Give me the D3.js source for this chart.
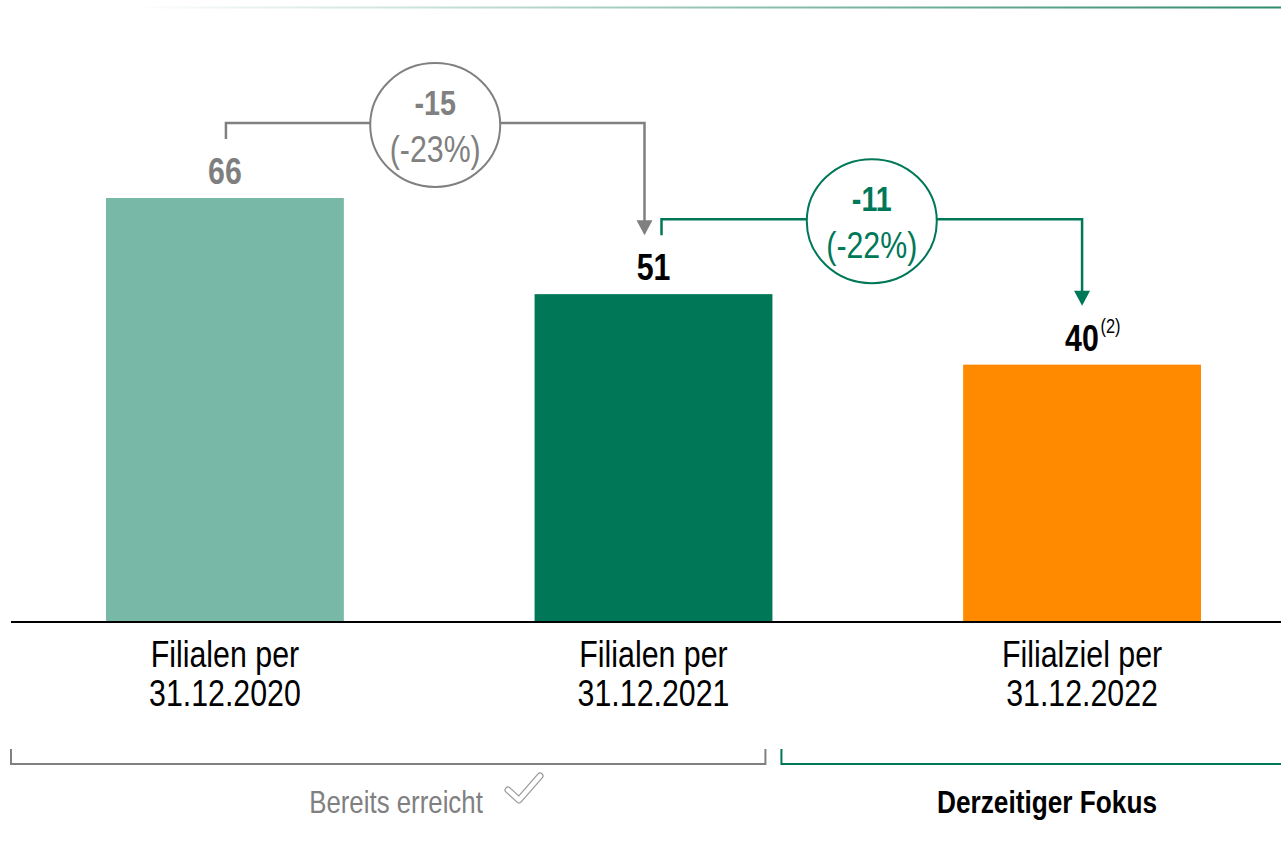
<!DOCTYPE html>
<html>
<head>
<meta charset="utf-8">
<script src="https://cdn.jsdelivr.net/npm/d3@7"></script>
<style>
  html, body { margin: 0; padding: 0; background: #fff; }
  svg { display: block; font-family: "Liberation Sans", Arial, sans-serif; }
</style>
</head>
<body>
<div id="chart"></div>
<script>
const categoriesLine1 = ["Filialen per", "Filialen per", "Filialziel per"];
const categoriesLine2 = ["31.12.2020", "31.12.2021", "31.12.2022"];
const values = [66, 51, 40];
const valueNotes = ["", "", "(2)"];
const barColors = ["#78b8a6", "#007858", "#ff8a00"];
const valueColors = ["#7f7f7f", "#000000", "#000000"];
const changeFrom = [0, 1];
const changeTo = [1, 2];
const changeColors = ["#808080", "#007858"];
const groupLabels = ["Bereits erreicht", "Derzeitiger Fokus"];
const groupColors = ["#808080", "#007858"];
const groupTextColors = ["#808080", "#000000"];
const groupWeights = ["normal", "bold"];

const W = 1281, H = 849;
const NARROW = 0.82; // no Arial Narrow here, so squeeze Liberation Sans

const svg = d3.select("#chart").append("svg")
    .attr("width", W)
    .attr("height", H);

// text drawn squeezed horizontally around its anchor point
function ntext(parent, x, y) {
    return parent.append("text")
        .attr("transform", `translate(${x},${y}) scale(${NARROW},1)`)
        .attr("text-anchor", "middle");
}

const defs = svg.append("defs");
const grad = defs.append("linearGradient").attr("id", "topline");
grad.append("stop").attr("offset", "0%").attr("stop-color", "#ffffff");
grad.append("stop").attr("offset", "100%").attr("stop-color", "#2e8a6c");

// thin fading line at the top
svg.append("rect")
    .attr("x", 130).attr("y", 6.5)
    .attr("width", W - 130).attr("height", 2)
    .attr("fill", "url(#topline)");

const x = d3.scaleBand()
    .domain(d3.range(values.length))
    .range([106, 1201])
    .paddingInner(0.445)
    .paddingOuter(0);
const baseY = 621;
const y = d3.scaleLinear()
    .domain([0, d3.max(values)])
    .range([baseY, 198]);
const cx = i => x(i) + x.bandwidth() / 2;

// bars
svg.selectAll("rect.bar")
    .data(values)
    .enter()
    .append("rect")
        .attr("class", "bar")
        .attr("x", (d, i) => x(i))
        .attr("y", d => y(d))
        .attr("width", x.bandwidth())
        .attr("height", d => baseY - y(d))
        .attr("fill", (d, i) => barColors[i]);

// baseline
svg.append("line")
    .attr("x1", 11).attr("x2", W)
    .attr("y1", baseY + 1).attr("y2", baseY + 1)
    .attr("stroke", "#000")
    .attr("stroke-width", 2);

// value labels
values.forEach((v, i) => {
    const t = ntext(svg, cx(i), y(v) - 14)
        .attr("font-size", "37px")
        .attr("font-weight", "bold")
        .attr("fill", valueColors[i]);
    t.append("tspan").text(v);
    if (valueNotes[i]) {
        t.attr("text-anchor", "start")
            .attr("transform", `translate(${cx(i) - 17},${y(v) - 14}) scale(${NARROW},1)`);
        t.append("tspan")
            .attr("font-size", "20px")
            .attr("font-weight", "normal")
            .attr("dy", -18)
            .attr("dx", 2)
            .text(valueNotes[i]);
    }
});

// category labels
categoriesLine1.forEach((c, i) => {
    ntext(svg, cx(i), 667)
        .attr("font-size", "37px")
        .attr("fill", "#000")
        .text(c);
    ntext(svg, cx(i), 706)
        .attr("font-size", "37px")
        .attr("fill", "#000")
        .text(categoriesLine2[i]);
});

// change connectors with ellipse badges
changeFrom.forEach((from, k) => {
    const to = changeTo[k];
    const col = changeColors[k];
    const hasIncoming = changeTo.includes(from);
    const hasOutgoing = changeFrom.includes(to);
    const x0 = cx(from) + (hasIncoming ? 8 : 1);
    const x1 = cx(to) - (hasOutgoing ? 9 : 0);
    const yStart = y(values[from]) - 59;
    const yTop = y(values[from]) - 75;
    const yTip = y(values[to]) - 59;
    const g = svg.append("g");
    g.append("path")
        .attr("d", `M${x0},${yStart}V${yTop}H${x1}V${yTip - 14}`)
        .attr("fill", "none")
        .attr("stroke", col)
        .attr("stroke-width", 2.5);
    g.append("path")
        .attr("d", `M${x1 - 8},${yTip - 15}L${x1 + 8},${yTip - 15}L${x1},${yTip}Z`)
        .attr("fill", col);
    const mx = (x0 + x1) / 2;
    g.append("ellipse")
        .attr("cx", mx).attr("cy", yTop + 2)
        .attr("rx", 65).attr("ry", 62)
        .attr("fill", "#fff")
        .attr("stroke", col)
        .attr("stroke-width", 2);
    const delta = values[to] - values[from];
    const pct = Math.round(delta / values[from] * 100);
    ntext(g, mx, yTop - 8)
        .attr("font-size", "35px")
        .attr("font-weight", "bold")
        .attr("fill", col)
        .text(String(delta));
    ntext(g, mx, yTop + 39)
        .attr("font-size", "37px")
        .attr("fill", col)
        .text(`(${pct}%)`);
});

// group brackets
const split = x(1) + x.bandwidth();
const bracketX = [[11, split - 7], [split + 9, W + 5]];
const textX = [396, 1047];
const textSize = ["31.5px", "32px"];
groupLabels.forEach((lbl, k) => {
    const [a, b] = bracketX[k];
    svg.append("path")
        .attr("d", `M${a},749V764H${b}V749`)
        .attr("fill", "none")
        .attr("stroke", groupColors[k])
        .attr("stroke-width", 2);
    ntext(svg, textX[k], 813)
        .attr("font-size", textSize[k])
        .attr("font-weight", groupWeights[k])
        .attr("fill", groupTextColors[k])
        .text(lbl);
});

// outlined check mark next to "Bereits erreicht"
const check = "M508,790L519,800L540,776";
svg.append("path")
    .attr("d", check)
    .attr("fill", "none")
    .attr("stroke", "#9a9a9a")
    .attr("stroke-width", 7)
    .attr("stroke-linejoin", "round")
    .attr("stroke-linecap", "round");
svg.append("path")
    .attr("d", check)
    .attr("fill", "none")
    .attr("stroke", "#fff")
    .attr("stroke-width", 4.5)
    .attr("stroke-linejoin", "round")
    .attr("stroke-linecap", "round");
</script>
</body>
</html>
